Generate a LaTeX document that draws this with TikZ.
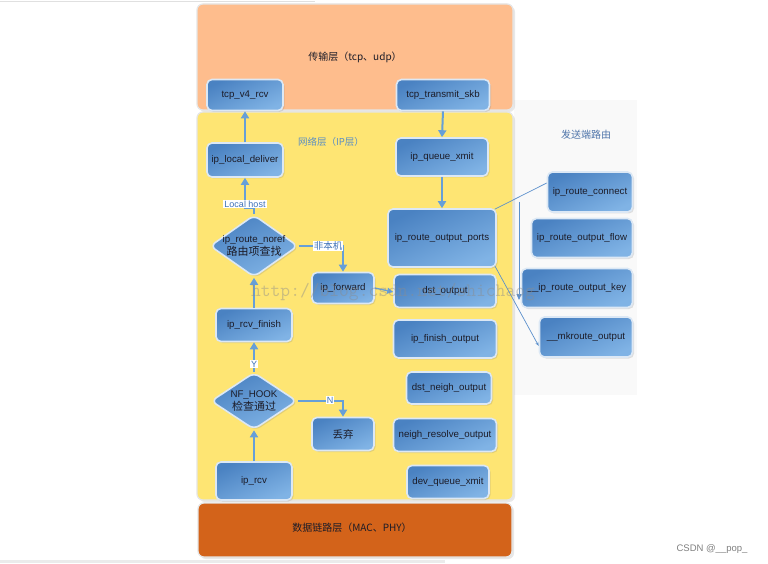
\documentclass[tikz,border=0pt]{standalone}
\usepackage{fontspec}
\setmainfont{Liberation Sans}
\newfontfamily\cjk{Noto Sans CJK SC}
\usetikzlibrary{shapes.geometric,arrows.meta,shadows,calc}
\definecolor{peach}{HTML}{FEBD8D}
\definecolor{yel}{HTML}{FEE573}
\definecolor{dorange}{HTML}{D3631A}
\definecolor{boxtop}{HTML}{4A82C2}
\definecolor{boxbot}{HTML}{80B3E5}
\definecolor{boxedge}{HTML}{DCE8F5}
\definecolor{arrblue}{HTML}{669FD8}
\definecolor{thinblue}{HTML}{5B90CC}
\definecolor{lblblue}{HTML}{3F72B8}
\definecolor{txt}{HTML}{1C1C28}
\tikzset{
  layer/.style={rounded corners=6pt, draw=black!10, line width=1.2pt, drop shadow={opacity=0.18, shadow xshift=2pt, shadow yshift=-2pt}},
  blbox/.style={rounded corners=5pt, draw=boxedge, line width=1.6pt, top color=boxtop, bottom color=boxbot, shading angle=25,
    drop shadow={opacity=0.22, shadow xshift=1.5pt, shadow yshift=-1.5pt}, text=txt,
    font=\fontsize{9.7}{11}\selectfont, inner sep=0pt, align=center},
  dia/.style={blbox, diamond, rounded corners=6pt},
  arr/.style={draw=arrblue, line width=2pt, -{Triangle[width=8pt,length=7pt]}},
  arrs/.style={draw=arrblue, line width=1.3pt, -{Triangle[width=6pt,length=6pt]}},
  thin/.style={draw=thinblue, line width=0.7pt},
  lbl/.style={fill=white, text=lblblue, inner sep=1pt, font=\fontsize{9}{10}\selectfont},
  dtxt/.style={text=txt, align=center, font=\fontsize{9.7}{12.5}\selectfont, inner sep=0pt}
}
\begin{document}
\begin{tikzpicture}[x=1pt,y=-1pt]
\useasboundingbox (0,0) rectangle (768,564);
\fill[white] (0,0) rectangle (768,564);
% faint page artefacts
\draw[black!12, line width=1pt] (0,1.5) -- (315,1.5);
\draw[black!8, line width=3pt] (0,561) -- (445,561);
% right panel
\fill[black!2.5] (514,100) rectangle (637,395);
% layers
\node[layer, fill=peach, minimum width=316pt, minimum height=106pt, inner sep=0pt] (tl) at (355,57) {};
\node[layer, fill=yel, minimum width=316pt, minimum height=388pt, inner sep=0pt] (nl) at (355,306) {};
\node[layer, fill=dorange, minimum width=314pt, minimum height=54pt, inner sep=0pt] (dl) at (355,530) {};
\node[text=txt, font=\cjk\fontsize{10}{12}\selectfont] (tlt) at (355,57) {传输层（tcp、udp）};
\node[text=txt, font=\cjk\fontsize{10}{12}\selectfont] (dlt) at (352,528) {数据链路层（MAC、PHY）};
\node[text=arrblue!90!black, font=\cjk\fontsize{9.5}{12}\selectfont] (nlt) at (331,142) {网络层（IP层）};
\node[text=lblblue!75!gray, font=\cjk\fontsize{10}{12}\selectfont] (rt) at (586,135) {发送端路由};
% boxes
\node[blbox, minimum width=76pt, minimum height=31pt] (tcpv4) at (245,95) {tcp\_v4\_rcv};
\node[blbox, minimum width=93pt, minimum height=31pt] (tcptx) at (443,95) {tcp\_transmit\_skb};
\node[blbox, minimum width=76pt, minimum height=34pt] (ipld) at (245,160) {ip\_local\_deliver};
\node[blbox, minimum width=92pt, minimum height=38pt] (ipqx) at (442,157) {ip\_queue\_xmit};
\node[blbox, minimum width=108pt, minimum height=58pt] (rop) at (442,238) {ip\_route\_output\_ports};
\node[dia, minimum width=88pt, minimum height=62pt] (noref) at (254,246) {};
\node[dtxt] (noreft) at (254,246) {ip\_route\_noref\\{\cjk\fontsize{11}{12}\selectfont 路由项查找}};
\node[blbox, minimum width=62pt, minimum height=31pt] (ipf) at (343,288) {ip\_forward};
\node[blbox, minimum width=102pt, minimum height=33pt] (dsto) at (445,291) {dst\_output};
\node[blbox, minimum width=76pt, minimum height=33pt] (iprf) at (254,325) {ip\_rcv\_finish};
\node[blbox, minimum width=103pt, minimum height=38pt] (ipfo) at (445,339) {ip\_finish\_output};
\node[blbox, minimum width=85pt, minimum height=32pt] (dno) at (449,388) {dst\_neigh\_output};
\node[dia, minimum width=86pt, minimum height=57pt] (nfh) at (254,401) {};
\node[dtxt] (nfht) at (254,401) {NF\_HOOK\\{\cjk\fontsize{11}{12}\selectfont 检查通过}};
\node[blbox, minimum width=62pt, minimum height=33pt, font=\cjk\fontsize{10.5}{12}\selectfont] (drop) at (343,434) {丢弃};
\node[blbox, minimum width=103pt, minimum height=33pt] (nro) at (445,435) {neigh\_resolve\_output};
\node[blbox, minimum width=76pt, minimum height=38pt] (iprcv) at (254,481) {ip\_rcv};
\node[blbox, minimum width=82pt, minimum height=33pt] (dqx) at (448,482) {dev\_queue\_xmit};
% right boxes
\node[blbox, minimum width=85pt, minimum height=40pt] (conn) at (590,192) {ip\_route\_connect};
\node[blbox, minimum width=101pt, minimum height=39pt] (flow) at (582,238) {ip\_route\_output\_flow};
\node[blbox, minimum width=111pt, minimum height=39pt] (key) at (577,288) {\_\_ip\_route\_output\_key};
\node[blbox, minimum width=93pt, minimum height=40pt] (mkr) at (586,337) {\_\_mkroute\_output};
% main arrows
\draw[arr] (ipld.north) -- (tcpv4.south);
\draw[arr] (tcptx.south) -- (ipqx.north);
\draw[arr] (ipqx.south) -- (rop.north);
\draw[arr] (noref.north) -- ++(0,-6) -| (ipld.south);
\node[lbl] (lhost) at (245,204) {Local host};
\draw[arr] (noref.east) -| (ipf.north);
\node[lbl, font=\cjk\fontsize{9.5}{10}\selectfont] (fb) at (328,246) {非本机};
\draw[arrs] (ipf.east) -- ($(dsto.west)+(0,1)$);
\draw[arr] (iprf.north) -- (noref.south);
\draw[arr] (nfh.north) -- (iprf.south);
\node[lbl] (ylab) at (254,364) {Y};
\draw[arr] (nfh.east) -| (drop.north);
\node[lbl] (nlab) at (330,400) {N};
\draw[arr] (iprcv.north) -- (nfh.south);
% thin connectors to the sending-side routing boxes
\draw[thin] ($(rop.north east)+(-2,1)$) -- ($(conn.west)+(0,-9)$);
\coordinate (vtop) at (519,202);
\coordinate (vbot) at (519,300);
\draw[thin, -{Triangle[length=6pt,width=5pt]}] (vtop) -- (vbot);
\draw[thin, -{Stealth[length=4pt,width=3pt]}] ($(rop.south east)+(-2,-2)$) -- ($(mkr.west)+(0,9)$);
% watermark
\node[text=black!45, opacity=0.45, font=\ttfamily\fontsize{19}{20}\selectfont, inner sep=0pt] (wm) at (393,292) {http://blog.csdn.net/shichaog};
\node[text=black!50, font=\fontsize{9.5}{11}\selectfont, inner sep=0pt] (csdn) at (712,549) {CSDN @\_\_pop\_};
\end{tikzpicture}
\end{document}
